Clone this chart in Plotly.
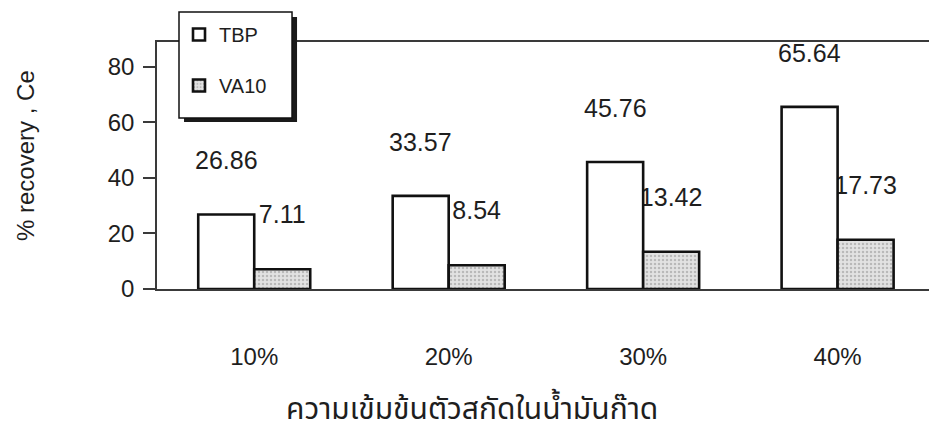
import plotly.graph_objects as go

# Extractant concentration in kerosene vs. % recovery
categories = ["10%", "20%", "30%", "40%"]
tbp = [26.86, 33.57, 45.76, 65.64]
va10 = [7.11, 8.54, 13.42, 17.73]
y_ticks = [0, 20, 40, 60, 80]

FONT = "Liberation Sans, Arial, Helvetica, sans-serif"
THAI_FONT = "Noto Sans Thai, Tahoma, DejaVu Sans, sans-serif"
INK = "#1e1e1e"
AXIS = "#3a3a3a"
BAR_W = 0.288          # width of one bar in category units
LABEL_BASE = 14.0      # VA10 label band starts this far above the bar top
LABEL_BAND = 11.6      # height of the (invisible) label band

x_pos = list(range(len(categories)))

fig = go.Figure()

# VA10 value labels ride on an invisible bar drawn first, so the TBP bars cover them
fig.add_trace(go.Bar(
    x=x_pos, y=[LABEL_BAND] * len(va10), base=[v + LABEL_BASE for v in va10],
    offset=0, width=BAR_W,
    marker=dict(color="rgba(0,0,0,0)", line=dict(width=0)),
    text=[f"{v:.2f}" for v in va10], textposition="inside",
    insidetextanchor="middle", textangle=0, constraintext="none",
    insidetextfont=dict(family=FONT, size=25, color=INK),
    showlegend=False, hoverinfo="skip",
))

fig.add_trace(go.Bar(
    name="TBP", x=x_pos, y=tbp, offset=-BAR_W, width=BAR_W,
    marker=dict(color="white", line=dict(color="#111111", width=2.6)),
    legendgroup="tbp", hoverinfo="skip",
))

fig.add_trace(go.Bar(
    name="VA10", x=x_pos, y=va10, offset=0, width=BAR_W,
    marker=dict(
        color="#d6d6d6",
        line=dict(color="#111111", width=2.6),
        pattern=dict(shape=".", fgcolor="#8f8f8f", bgcolor="#e2e2e2",
                     size=4, solidity=0.3),
    ),
    legendgroup="va10", hoverinfo="skip",
))

# TBP value labels, centred over each TBP bar
for i, v in zip(x_pos, tbp):
    fig.add_annotation(
        x=i - BAR_W / 2, y=v, yshift=54, text=f"{v:.2f}", showarrow=False,
        xanchor="center", yanchor="middle",
        font=dict(family=FONT, size=25, color=INK),
    )

# Axis titles
fig.add_annotation(
    xref="paper", yref="paper", x=-0.171, y=0.5425,
    text="% recovery , Ce", textangle=-90, showarrow=False,
    xanchor="center", yanchor="middle",
    font=dict(family=FONT, size=24, color=INK),
)
fig.add_annotation(
    xref="paper", yref="paper", x=0.408, y=-0.49,
    text="ความเข้มข้นตัวสกัดในน้ำมันก๊าด", showarrow=False,
    xanchor="center", yanchor="middle",
    font=dict(family=THAI_FONT, size=30, color=INK),
)

# Legend frame: drop shadow, then the white box the entries sit in
fig.add_shape(
    type="rect", xref="paper", yref="paper",
    x0=0.0350, x1=0.1814, y0=0.6761, y1=1.1012,
    fillcolor="#1a1a1a", line=dict(width=0), layer="above",
)
fig.add_shape(
    type="rect", xref="paper", yref="paper",
    x0=0.0285, x1=0.1749, y0=0.6923, y1=1.1215,
    fillcolor="white", line=dict(color="#111111", width=1.5), layer="above",
)

fig.update_layout(
    width=929, height=435,
    margin=dict(l=157, r=0, t=42, b=146),
    paper_bgcolor="white", plot_bgcolor="white",
    barmode="overlay",
    font=dict(family=FONT, color=INK),
    showlegend=True,
    legend=dict(
        x=0.0285, y=1.1093, xanchor="left", yanchor="top",
        xref="paper", yref="paper",
        bgcolor="rgba(0,0,0,0)", borderwidth=0,
        font=dict(family=FONT, size=20, color=INK),
        traceorder="grouped", tracegroupgap=22,
    ),
    xaxis=dict(
        range=[-0.5, 3.47], tickvals=x_pos, ticktext=categories,
        showline=True, mirror=True, linecolor=AXIS, linewidth=1.5,
        ticks="", showgrid=False, zeroline=False,
        ticklabelstandoff=45,
        tickfont=dict(family=FONT, size=24, color=INK),
    ),
    yaxis=dict(
        range=[0, 89], tickvals=y_ticks,
        showline=True, linecolor=AXIS, linewidth=1.5,
        ticks="outside", ticklen=12, tickwidth=1.5, tickcolor=AXIS,
        showgrid=False, zeroline=False, ticklabelstandoff=4,
        tickfont=dict(family=FONT, size=24, color=INK),
    ),
)

fig.write_html("out.html")
